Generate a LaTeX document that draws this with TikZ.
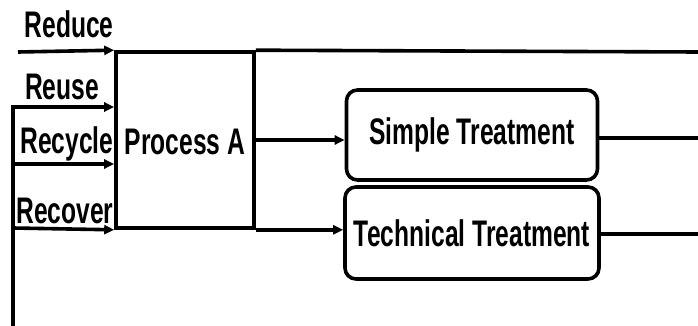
\documentclass[tikz,border=0pt]{standalone}
\usepackage{fontspec}
\usepackage{graphicx}
\setmainfont{Liberation Sans}
\usetikzlibrary{arrows.meta}
\newcommand{\squeeze}[1]{\scalebox{0.665}[1]{#1}}
\begin{document}
\begin{tikzpicture}[x=1pt,y=-1pt,
  line width=3.6pt,
  arr/.style={-{Triangle[length=10pt,width=9pt]}},
  txt/.style={font=\fontsize{37}{42}\selectfont\bfseries, inner sep=0pt},
  lbl/.style={txt, anchor=base},
  procbox/.style={draw, rectangle, minimum width=138pt, minimum height=176pt, inner sep=0pt},
  treat/.style={draw, rectangle, rounded corners=11pt, minimum width=251pt, minimum height=90pt, inner sep=0pt, font=\fontsize{37}{42}\selectfont\bfseries}]
\useasboundingbox (0,0) rectangle (698,326);

% main boxes
\node[procbox] (pa) at (185,140) {};
\node[txt] (patxt) at (185,142) {\squeeze{Process A}};
\node[treat] (simple) at (472,135) {\squeeze{Simple Treatment}};
\node[treat, minimum width=254pt, minimum height=92pt] (tech) at (472,233) {\squeeze{Technical Treatment}};

% labels
\node[lbl] (lred) at (69,38) {\squeeze{Reduce}};
\node[lbl] (lreu) at (62,100) {\squeeze{Reuse}};
\node[lbl] (lrec) at (67,153) {\squeeze{Recycle}};
\node[lbl] (lrev) at (65,223) {\squeeze{Recover}};

% coordinates
\coordinate (redstart) at (18,52);
\coordinate (redend) at (698,52);
\coordinate (lbot) at (13,326);
\coordinate (reuseL) at (13,107);
\coordinate (recycL) at (13,164);
\coordinate (recovL) at (13,228);
\coordinate (simpleR) at (698,138);
\coordinate (techR) at (698,234);

% connectors
\draw[arr] (redstart) -- (pa.north west);
\draw (pa.north east) -- (redend);
\draw[arr] (lbot) -- (reuseL) -- (pa.west |- reuseL);
\draw[arr] (recycL) -- (pa.west |- recycL);
\draw[arr] (recovL) -- (pa.south west);
\draw[arr] (pa.south east) -- (tech.west |- pa.south);
\draw[arr] (pa.east) -- (simple.west |- pa.east);
\draw (simple.east |- simpleR) -- (simpleR);
\draw (tech.east |- techR) -- (techR);
\end{tikzpicture}
\end{document}
